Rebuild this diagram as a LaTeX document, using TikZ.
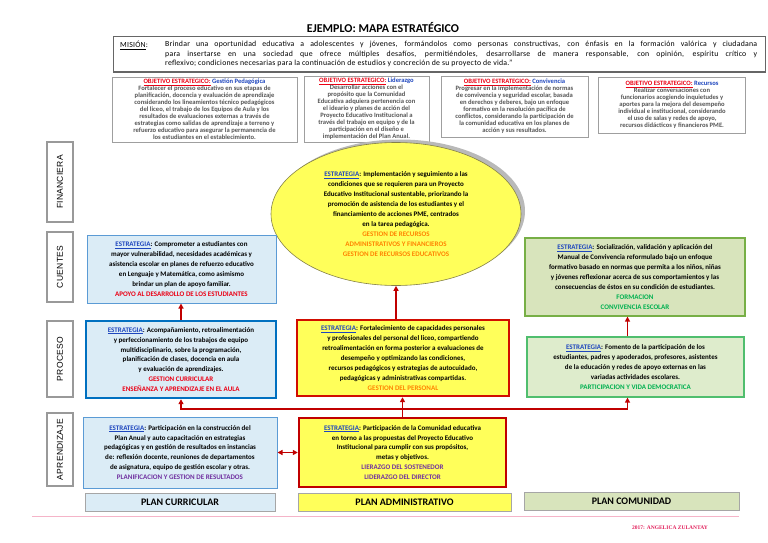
\documentclass[tikz,border=0pt]{standalone}
\usepackage{fontspec}
\setmainfont{Carlito}
\newfontfamily\arialfont[LetterSpace=3]{Liberation Sans}
\newfontfamily\misionfont[LetterSpace=3]{Carlito}
\newfontfamily\firmafont{Liberation Serif}
\usetikzlibrary{shapes.geometric, positioning, arrows.meta, shadows}

\definecolor{rojoosc}{RGB}{192,0,0}
\definecolor{azulest}{RGB}{30,70,190}
\definecolor{celeste}{RGB}{219,236,246}
\definecolor{bordeceleste}{RGB}{91,155,213}
\definecolor{azulfuerte}{RGB}{0,112,192}
\definecolor{amarillo}{RGB}{255,255,90}
\definecolor{verdeclaro}{RGB}{216,228,188}
\definecolor{verdeclaro2}{RGB}{222,236,204}
\definecolor{bordeverde}{RGB}{119,175,70}
\definecolor{bordeverde2}{RGB}{80,190,110}
\definecolor{verdetexto}{RGB}{0,176,80}
\definecolor{naranja}{RGB}{255,130,0}
\definecolor{morado}{RGB}{112,48,160}
\definecolor{rojotexto}{RGB}{235,0,20}
\definecolor{grisobj}{RGB}{85,85,85}
\definecolor{rosa}{RGB}{245,180,200}
\definecolor{firma}{RGB}{225,30,90}

\tikzset{
  estrategia/.style={rectangle, align=center, inner sep=2pt, font=\fontsize{7}{9.9}\selectfont\bfseries},
  cajaceleste/.style={estrategia, fill=celeste, draw=bordeceleste, line width=1pt},
  cajaamarilla/.style={estrategia, fill=amarillo, draw=rojoosc, line width=2.4pt},
  cajaverde/.style={estrategia, fill=verdeclaro, draw=bordeverde, line width=1.2pt},
  objetivo/.style={rectangle, draw=gray!75, line width=0.8pt, fill=white, align=center, inner sep=0.5pt, font=\fontsize{6.6}{7}\selectfont\bfseries, text=grisobj},
  lado/.style={rectangle, draw=gray!80, line width=1.1pt, fill=white, rotate=90, minimum height=26pt, font=\arialfont\fontsize{8.5}{9}\selectfont},
  plan/.style={rectangle, draw=gray!70, line width=1pt, minimum height=18pt, font=\fontsize{10}{11}\selectfont\bfseries},
  flecha/.style={rojoosc, line width=1.4pt, -{Triangle[length=5pt,width=5pt]}},
  flechados/.style={rojoosc, line width=1.4pt, {Triangle[length=5pt,width=5pt]}-{Triangle[length=5pt,width=5pt]}}
}
\newcommand{\estra}{\textcolor{azulest}{\underline{ESTRATEGIA}}}
\newcommand{\objtit}[1]{\textcolor{rojotexto}{\underline{OBJETIVO ESTRATEGICO:}} \textcolor{azulest}{#1}}

\begin{document}
\begin{tikzpicture}[x=1pt, y=-1pt]
\useasboundingbox (0,0) rectangle (768,543);

% titulo y mision
\node[font=\fontsize{12}{14}\selectfont\bfseries] (titulo) at (383,28) {EJEMPLO: MAPA ESTRATÉGICO};
\node[rectangle, draw=gray!80!black, line width=1pt, minimum width=652pt, minimum height=35pt] (mision) at (439,54.5) {};
\node[anchor=north west, inner sep=0pt, font=\misionfont\fontsize{7.8}{9.5}\selectfont] (misionlab) at (120,41) {\underline{MISIÓN}:};
\node[anchor=north west, inner sep=0pt, text width=592pt, align=justify, font=\misionfont\fontsize{7.8}{9.5}\selectfont] (misiontxt) at (165,41)
  {Brindar una oportunidad educativa a adolescentes y jóvenes, formándolos como personas constructivas, con énfasis en la formación valórica y ciudadana\linebreak
   para insertarse en una sociedad que ofrece múltiples desafíos, permitiéndoles, desarrollarse de manera responsable, con opinión, espíritu crítico y\linebreak
   reflexivo; condiciones necesarias para la continuación de estudios y concreción de su proyecto de vida.”};

% objetivos estrategicos
\node[objetivo, minimum width=185pt, minimum height=65pt] (obped) at (204.5,109.5)
  {\objtit{Gestión Pedagógica}\\
   Fortalecer el proceso educativo en sus etapas de\\
   planificación, docencia y evaluación de aprendizaje\\
   considerando los lineamientos técnico pedagógicos\\
   del liceo, el trabajo de los Equipos de Aula y los\\
   resultados de evaluaciones externas a través de\\
   estrategias como salidas de aprendizaje a terreno y\\
   refuerzo educativo para asegurar la permanencia de\\
   los estudiantes en el establecimiento.};
\node[objetivo, minimum width=125pt, minimum height=66pt] (oblid) at (366.5,109)
  {\objtit{Liderazgo}\\
   Desarrollar acciones con el\\
   propósito que la Comunidad\\
   Educativa adquiera pertenencia con\\
   el ideario y planes de acción del\\
   Proyecto Educativo Institucional a\\
   través del trabajo en equipo y de la\\
   participación en el diseño e\\
   implementación del Plan Anual.};
\node[objetivo, minimum width=147pt, minimum height=61pt] (obconv) at (514.5,106.5)
  {\objtit{Convivencia}\\
   Progresar en la implementación de normas\\
   de convivencia y seguridad escolar, basada\\
   en derechos y deberes, bajo un enfoque\\
   formativo en la resolución pacífica de\\
   conflictos, considerando la participación de\\
   la comunidad educativa en los planes de\\
   acción y sus resultados.};
\node[objetivo, minimum width=147pt, minimum height=56pt] (obrec) at (672,105)
  {\objtit{Recursos}\\
   Realizar conversaciones con\\
   funcionarios acogiendo inquietudes y\\
   aportes para la mejora del desempeño\\
   individual e institucional, considerando\\
   el uso de salas y redes de apoyo,\\
   recursos didácticos y financieros PME.};

% perspectivas
\foreach \y/\h/\lab/\nm in {182/80/FINANCIERA/fin, 267/70/CUENTES/cue, 359/76/PROCESO/pro, 449.5/73/APRENDIZAJE/apr} {
  \node[lado, minimum width=\h pt] (\nm) at (60,\y) {\lab};
}

% financiera
\node[ellipse, fill=amarillo, draw=black!55!yellow, line width=0.6pt, minimum width=250pt, minimum height=143pt,
      align=center, inner sep=0pt, font=\fontsize{7}{10}\selectfont\bfseries,
      drop shadow={shadow xshift=4pt, shadow yshift=3pt, fill=gray!55, opacity=1}] (elipse) at (396,214)
  {\estra: Implementación y seguimiento a las\\
   condiciones que se requieren para un Proyecto\\
   Educativo Institucional sustentable, priorizando la\\
   promoción de asistencia de los estudiantes y el\\
   financiamiento de acciones PME, centrados\\
   en la tarea pedagógica.\\
   \textcolor{naranja}{GESTION DE RECURSOS}\\
   \textcolor{naranja}{ADMINISTRATIVOS Y FINANCIEROS}\\
   \textcolor{naranja}{GESTION DE RECURSOS EDUCATIVOS}};

% cuentes
\node[cajaceleste, minimum width=189pt, minimum height=68pt] (cueL) at (181.5,269)
  {\estra: Comprometer a estudiantes con\\
   mayor vulnerabilidad, necesidades académicas y\\
   asistencia escolar en planes de refuerzo educativo\\
   en Lenguaje y Matemática, como asimismo\\
   brindar un plan de apoyo familiar.\\
   \textcolor{rojotexto}{APOYO AL DESARROLLO DE LOS ESTUDIANTES}};
\node[cajaverde, minimum width=220pt, minimum height=78pt] (cueR) at (635,277)
  {\estra: Socialización, validación y aplicación del\\
   Manual de Convivencia reformulado bajo un enfoque\\
   formativo basado en normas que permita a los niños, niñas\\
   y jóvenes reflexionar acerca de sus comportamientos y las\\
   consecuencias de éstos en su condición de estudiantes.\\
   \textcolor{verdetexto}{FORMACION}\\
   \textcolor{verdetexto}{CONVIVENCIA ESCOLAR}};

% proceso
\node[cajaceleste, draw=azulfuerte, line width=2.4pt, minimum width=190pt, minimum height=77pt] (procL) at (181,359.5)
  {\estra: Acompañamiento, retroalimentación\\
   y perfeccionamiento de los trabajos de equipo\\
   multidisciplinario, sobre la programación,\\
   planificación de clases, docencia en aula\\
   y evaluación de aprendizajes.\\
   \textcolor{rojotexto}{GESTION CURRICULAR}\\
   \textcolor{rojotexto}{ENSEÑANZA Y APRENDIZAJE EN EL AULA}};
\node[cajaamarilla, draw=red!80!black!90!orange, minimum width=212pt, minimum height=76pt] (procM) at (403,358)
  {\estra: Fortalecimiento de capacidades personales\\
   y profesionales del personal del liceo, compartiendo\\
   retroalimentación en forma posterior a evaluaciones de\\
   desempeño y optimizando las condiciones,\\
   recursos pedagógicos y estrategias de autocuidado,\\
   pedagógicas y administrativas compartidas.\\
   \textcolor{naranja}{GESTION DEL PERSONAL}};
\node[cajaverde, fill=verdeclaro2, draw=bordeverde2, minimum width=217pt, minimum height=60pt] (procR) at (635.5,367)
  {\estra: Fomento de la participación de los\\
   estudiantes, padres y apoderados, profesores, asistentes\\
   de la educación y redes de apoyo externas en las\\
   variadas actividades escolares.\\
   \textcolor{verdetexto}{PARTICIPACION Y VIDA DEMOCRATICA}};

% aprendizaje
\node[cajaceleste, minimum width=194pt, minimum height=71pt] (aprL) at (180,452.5)
  {\estra: Participación en la construcción del\\
   Plan Anual y auto capacitación en estrategias\\
   pedagógicas y en gestión de resultados en instancias\\
   de: reflexión docente, reuniones de departamentos\\
   de asignatura, equipo de gestión escolar y otras.\\
   \textcolor{morado}{PLANIFICACION Y GESTION DE RESULTADOS}};
\node[cajaamarilla, minimum width=207pt, minimum height=69pt] (aprM) at (402.5,452.5)
  {\estra: Participación de la Comunidad educativa\\
   en torno a las propuestas del Proyecto Educativo\\
   Institucional para cumplir con sus propósitos,\\
   metas y objetivos.\\
   \textcolor{morado}{LIERAZGO DEL SOSTENEDOR}\\
   \textcolor{morado}{LIDERAZGO DEL DIRECTOR}};

% planes
\node[plan, fill=celeste, minimum width=190pt] (pcur) at (180,502) {PLAN CURRICULAR};
\node[plan, fill=amarillo, minimum width=213pt] (padm) at (404.5,502) {PLAN ADMINISTRATIVO};
\node[plan, fill=verdeclaro, minimum width=215pt] (pcom) at (631.5,501) {PLAN COMUNIDAD};

% conexiones
\coordinate (bus) at (0,409);
\draw[flecha] (procL.north) -- (procL.north |- cueL.south);
\draw[flecha] (procM.north -| elipse.south) -- (elipse.south);
\draw[flecha] ([xshift=-8pt]procR.north) -- ([xshift=-8pt]procR.north |- cueR.south);
\draw[flecha] (aprM.north) -- (aprM.north |- procM.south);
\draw[flecha] (aprM.north |- bus) -| (procL.south);
\draw[flecha] (aprM.north |- bus) -| ([xshift=-8pt]procR.south);
\draw[flechados] (aprL.east) -- (aprM.west);

% pie
\draw[rosa, line width=0.6pt] (32,516) -- (739,516);
\node[font=\firmafont\bfseries\fontsize{5.5}{6}\selectfont, text=firma] (firma) at (670,528) {2017: ANGELICA ZULANTAY};

\end{tikzpicture}
\end{document}
